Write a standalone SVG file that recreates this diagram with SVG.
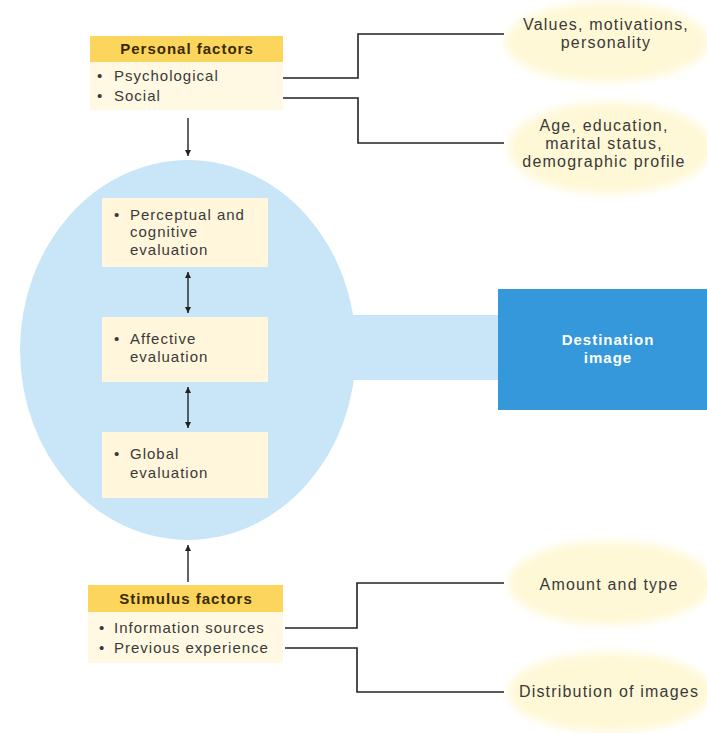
<svg xmlns="http://www.w3.org/2000/svg" width="707" height="733" viewBox="0 0 707 733">
<defs>
<style>
.t{font-family:"Liberation Sans",Arial,sans-serif;font-size:15px;letter-spacing:1px;fill:#3a3a3a}
.e{font-family:"Liberation Sans",Arial,sans-serif;font-size:16px;letter-spacing:1.2px;fill:#3a3a3a}
.h{font-family:"Liberation Sans",Arial,sans-serif;font-size:15px;letter-spacing:1px;font-weight:bold;fill:#3a2a00}
.hdr{fill:#fcd55c}
.body{fill:#fff8e2}
.inner{fill:#fff6dc}
.cream{fill:#fff8d6}
.ln{fill:none;stroke:#222;stroke-width:1.6}
.ar{fill:none;stroke:#222;stroke-width:1.4}
</style>
<marker id="ah" markerWidth="8" markerHeight="8" refX="6" refY="4" orient="auto-start-reverse" markerUnits="userSpaceOnUse">
<path d="M0,1 L6,4 L0,7 Z" fill="#222"/>
</marker>
<filter id="blur" x="-20%" y="-20%" width="140%" height="140%"><feGaussianBlur stdDeviation="4"/></filter>
</defs>
<rect width="707" height="733" fill="#fff"/>

<g id="evaluation">
<rect x="300" y="315" width="200" height="65" fill="#c8e6f7"/>
<ellipse cx="188" cy="350" rx="168" ry="190" fill="#c8e6f7"/>
</g>

<g id="destination-image">
<rect x="498" y="289" width="209" height="121" fill="#3598da"/>
<text x="608" y="345" text-anchor="middle" class="h" style="fill:#fff">Destination</text>
<text x="608" y="363" text-anchor="middle" class="h" style="fill:#fff">image</text>
</g>

<g id="personal-factors">
<rect x="90" y="62" width="193" height="48" class="body"/>
<rect x="90" y="36" width="193" height="26" class="hdr"/>
<text x="187" y="54" text-anchor="middle" class="h">Personal factors</text>
<text x="97" y="81" class="t">•</text>
<text x="114" y="81" class="t">Psychological</text>
<text x="97" y="101" class="t">•</text>
<text x="114" y="101" class="t">Social</text>
</g>

<g id="perceptual">
<rect x="102" y="198" width="166" height="69" class="inner"/>
<text x="114" y="220" class="t">•</text>
<text x="130" y="220" class="t">Perceptual and</text>
<text x="130" y="237" class="t">cognitive</text>
<text x="130" y="255" class="t">evaluation</text>
</g>

<g id="affective">
<rect x="102" y="317" width="166" height="65" class="inner"/>
<text x="114" y="344" class="t">•</text>
<text x="130" y="344" class="t">Affective</text>
<text x="130" y="362" class="t">evaluation</text>
</g>

<g id="global">
<rect x="102" y="432" width="166" height="66" class="inner"/>
<text x="114" y="459" class="t">•</text>
<text x="130" y="459" class="t">Global</text>
<text x="130" y="478" class="t">evaluation</text>
</g>

<g id="stimulus-factors">
<rect x="88" y="612" width="195" height="51" class="body"/>
<rect x="88" y="585" width="195" height="27" class="hdr"/>
<text x="186" y="604" text-anchor="middle" class="h">Stimulus factors</text>
<text x="99" y="633" class="t">•</text>
<text x="114" y="633" class="t">Information sources</text>
<text x="99" y="653" class="t">•</text>
<text x="114" y="653" class="t">Previous experience</text>
</g>

<g id="values">
<ellipse cx="607" cy="42" rx="102" ry="40" class="cream" filter="url(#blur)"/>
<text x="606" y="30" text-anchor="middle" class="e">Values, motivations,</text>
<text x="606" y="48" text-anchor="middle" class="e">personality</text>
</g>

<g id="age">
<ellipse cx="610" cy="148" rx="102" ry="46" class="cream" filter="url(#blur)"/>
<text x="604" y="131" text-anchor="middle" class="e">Age, education,</text>
<text x="604" y="149" text-anchor="middle" class="e">marital status,</text>
<text x="604" y="167" text-anchor="middle" class="e">demographic profile</text>
</g>

<g id="amount">
<ellipse cx="610" cy="583" rx="102" ry="42" class="cream" filter="url(#blur)"/>
<text x="609" y="590" text-anchor="middle" class="e">Amount and type</text>
</g>

<g id="distribution">
<ellipse cx="610" cy="692" rx="102" ry="40" class="cream" filter="url(#blur)"/>
<text x="609" y="697" text-anchor="middle" class="e">Distribution of images</text>
</g>

<g id="connectors">
<polyline class="ln" points="283,78 358,78 358,34 504,34"/>
<polyline class="ln" points="283,98 358,98 358,143 504,143"/>
<polyline class="ln" points="285,628 357,628 357,583 504,583"/>
<polyline class="ln" points="285,648 357,648 357,692 504,692"/>
<line class="ar" x1="188" y1="118" x2="188" y2="156" marker-end="url(#ah)"/>
<line class="ar" x1="188" y1="272" x2="188" y2="313" marker-start="url(#ah)" marker-end="url(#ah)"/>
<line class="ar" x1="188" y1="387" x2="188" y2="428" marker-start="url(#ah)" marker-end="url(#ah)"/>
<line class="ar" x1="188" y1="582" x2="188" y2="545" marker-end="url(#ah)"/>
</g>
</svg>
